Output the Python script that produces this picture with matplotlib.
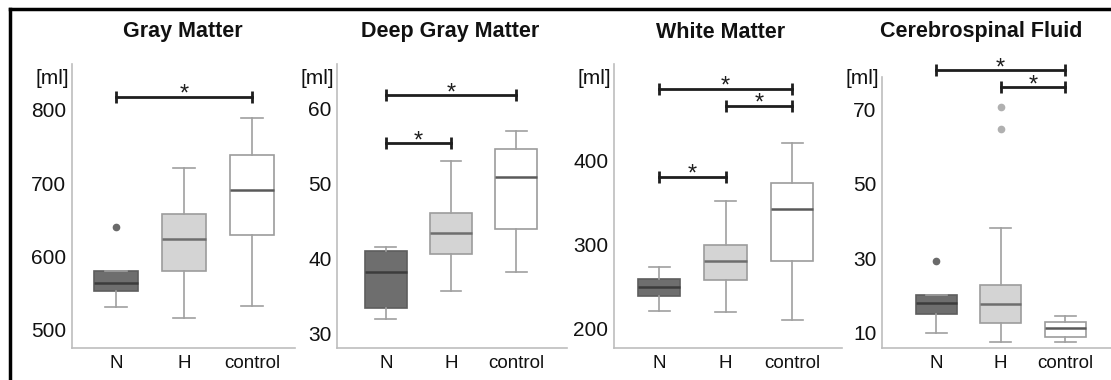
import matplotlib.pyplot as plt
from matplotlib.lines import Line2D

plt.rcParams['font.family'] = ['Liberation Sans', 'DejaVu Sans']

groups = ["N", "H", "control"]
titles = ["Gray Matter", "Deep Gray Matter", "White Matter", "Cerebrospinal Fluid"]

# box stats per panel: whislo, q1, med, q3, whishi for N, H, control
gm_stats = [[531, 553, 564, 580, 580], [516, 580, 624, 658, 720], [533, 629, 690, 739, 789]]
dgm_stats = [[31.9, 33.4, 38.1, 40.9, 41.5], [35.6, 40.5, 43.3, 46.0, 52.9], [38.1, 43.9, 50.8, 54.5, 57.0]]
wm_stats = [[221, 239, 250, 259, 273], [220, 258, 281, 300, 352], [210, 281, 343, 374, 421]]
csf_stats = [[9.7, 14.9, 17.8, 20.0, 20.0], [7.3, 12.4, 17.5, 22.8, 38.0], [7.3, 8.6, 11.0, 12.7, 14.3]]

gm_fliers = [[640], [], []]
dgm_fliers = [[], [], []]
wm_fliers = [[], [], []]
csf_fliers = [[29.2], [64.9, 70.8], []]

# significance bars: (from group, to group, height)
gm_sig = [(1, 3, 818)]
dgm_sig = [(1, 3, 61.7), (1, 2, 55.3)]
wm_sig = [(1, 3, 486), (2, 3, 466), (1, 2, 381)]
csf_sig = [(1, 3, 80.8), (2, 3, 76.2)]

gm_ticks = [500, 600, 700, 800]
dgm_ticks = [30, 40, 50, 60]
wm_ticks = [200, 300, 400]
csf_ticks = [10, 30, 50, 70]

panels = [
    (gm_stats, gm_fliers, gm_sig, gm_ticks, (475, 862.6), (0.35, 3.63), (72, 295, 64), 183),
    (dgm_stats, dgm_fliers, dgm_sig, dgm_ticks, (28.0, 65.9), (0.25, 3.78), (337, 567, 64), 450),
    (wm_stats, wm_fliers, wm_sig, wm_ticks, (177, 515.5), (0.32, 3.75), (614, 842, 64), 721),
    (csf_stats, csf_fliers, csf_sig, csf_ticks, (5.7, 78.9), (0.16, 3.71), (882, 1111, 77), 981),
]

face = ["#6e6e6e", "#d4d4d4", "#ffffff"]
edge = ["#5e5e5e", "#9c9c9c", "#9c9c9c"]
medc = ["#3c3c3c", "#6e6e6e", "#5a5a5a"]
flierc = ["#6a6a6a", "#b0b0b0", "#b0b0b0"]

W, H = 1111, 380
fig = plt.figure(figsize=(W / 100, H / 100), dpi=100)

for k, (stats, fliers, sig, ticks, ylim, xlim, (l, r, t), tx) in enumerate(panels):
    ax = fig.add_axes([l / W, 1 - 348 / H, (r - l) / W, (348 - t) / H])
    bstats = []
    for i, g in enumerate(groups):
        lo, q1, med, q3, hi = stats[i]
        bstats.append(dict(label=g, whislo=lo, q1=q1, med=med, q3=q3, whishi=hi, fliers=fliers[i]))
    res = ax.bxp(bstats, positions=[1, 2, 3], widths=0.64, patch_artist=True,
                 whiskerprops=dict(color="#a0a0a0", lw=1.2),
                 capprops=dict(color="#a0a0a0", lw=1.2))
    for i in range(3):
        res['boxes'][i].set_facecolor(face[i])
        res['boxes'][i].set_edgecolor(edge[i])
        res['boxes'][i].set_linewidth(1.2)
        res['medians'][i].set_color(medc[i])
        res['medians'][i].set_linewidth(1.8)
        res['fliers'][i].set_marker('o')
        res['fliers'][i].set_markersize(4.5)
        res['fliers'][i].set_markerfacecolor(flierc[i])
        res['fliers'][i].set_markeredgecolor(flierc[i])

    for a, b, y in sig:
        ax.plot([a, b], [y, y], color="#1e1e1e", lw=2, marker='|', markersize=9,
                markeredgewidth=2, clip_on=False)
        ax.annotate("*", xy=((a + b) / 2, y), xytext=(0, -3), textcoords="offset points",
                    ha="center", va="baseline", fontsize=17, color="#1e1e1e", annotation_clip=False)

    ax.set_xlim(*xlim)
    ax.set_ylim(*ylim)
    ax.set_yticks(ticks)
    ax.tick_params(axis='both', length=0, colors="#111111")
    ax.tick_params(axis='x', labelsize=13.5, pad=5)
    ax.tick_params(axis='y', labelsize=15, pad=4)
    for s in ["top", "right"]:
        ax.spines[s].set_visible(False)
    for s in ["left", "bottom"]:
        ax.spines[s].set_color("#bdbdbd")
        ax.spines[s].set_linewidth(1.2)

    fig.text((l - 3) / W, 1 - 78 / H, "[ml]", ha="right", va="center", fontsize=15, color="#111111")
    fig.text(tx / W, 1 - 32 / H, titles[k], ha="center", va="center", fontsize=15.5,
             fontweight="bold", color="#111111")

# outer frame (left and top edges)
fig.add_artist(Line2D([10 / W, 10 / W], [0, 1 - 9 / H], color="black", lw=2.5, transform=fig.transFigure))
fig.add_artist(Line2D([10 / W, 1], [1 - 9 / H, 1 - 9 / H], color="black", lw=2.5, transform=fig.transFigure))

fig.savefig("out.png", dpi=100)
